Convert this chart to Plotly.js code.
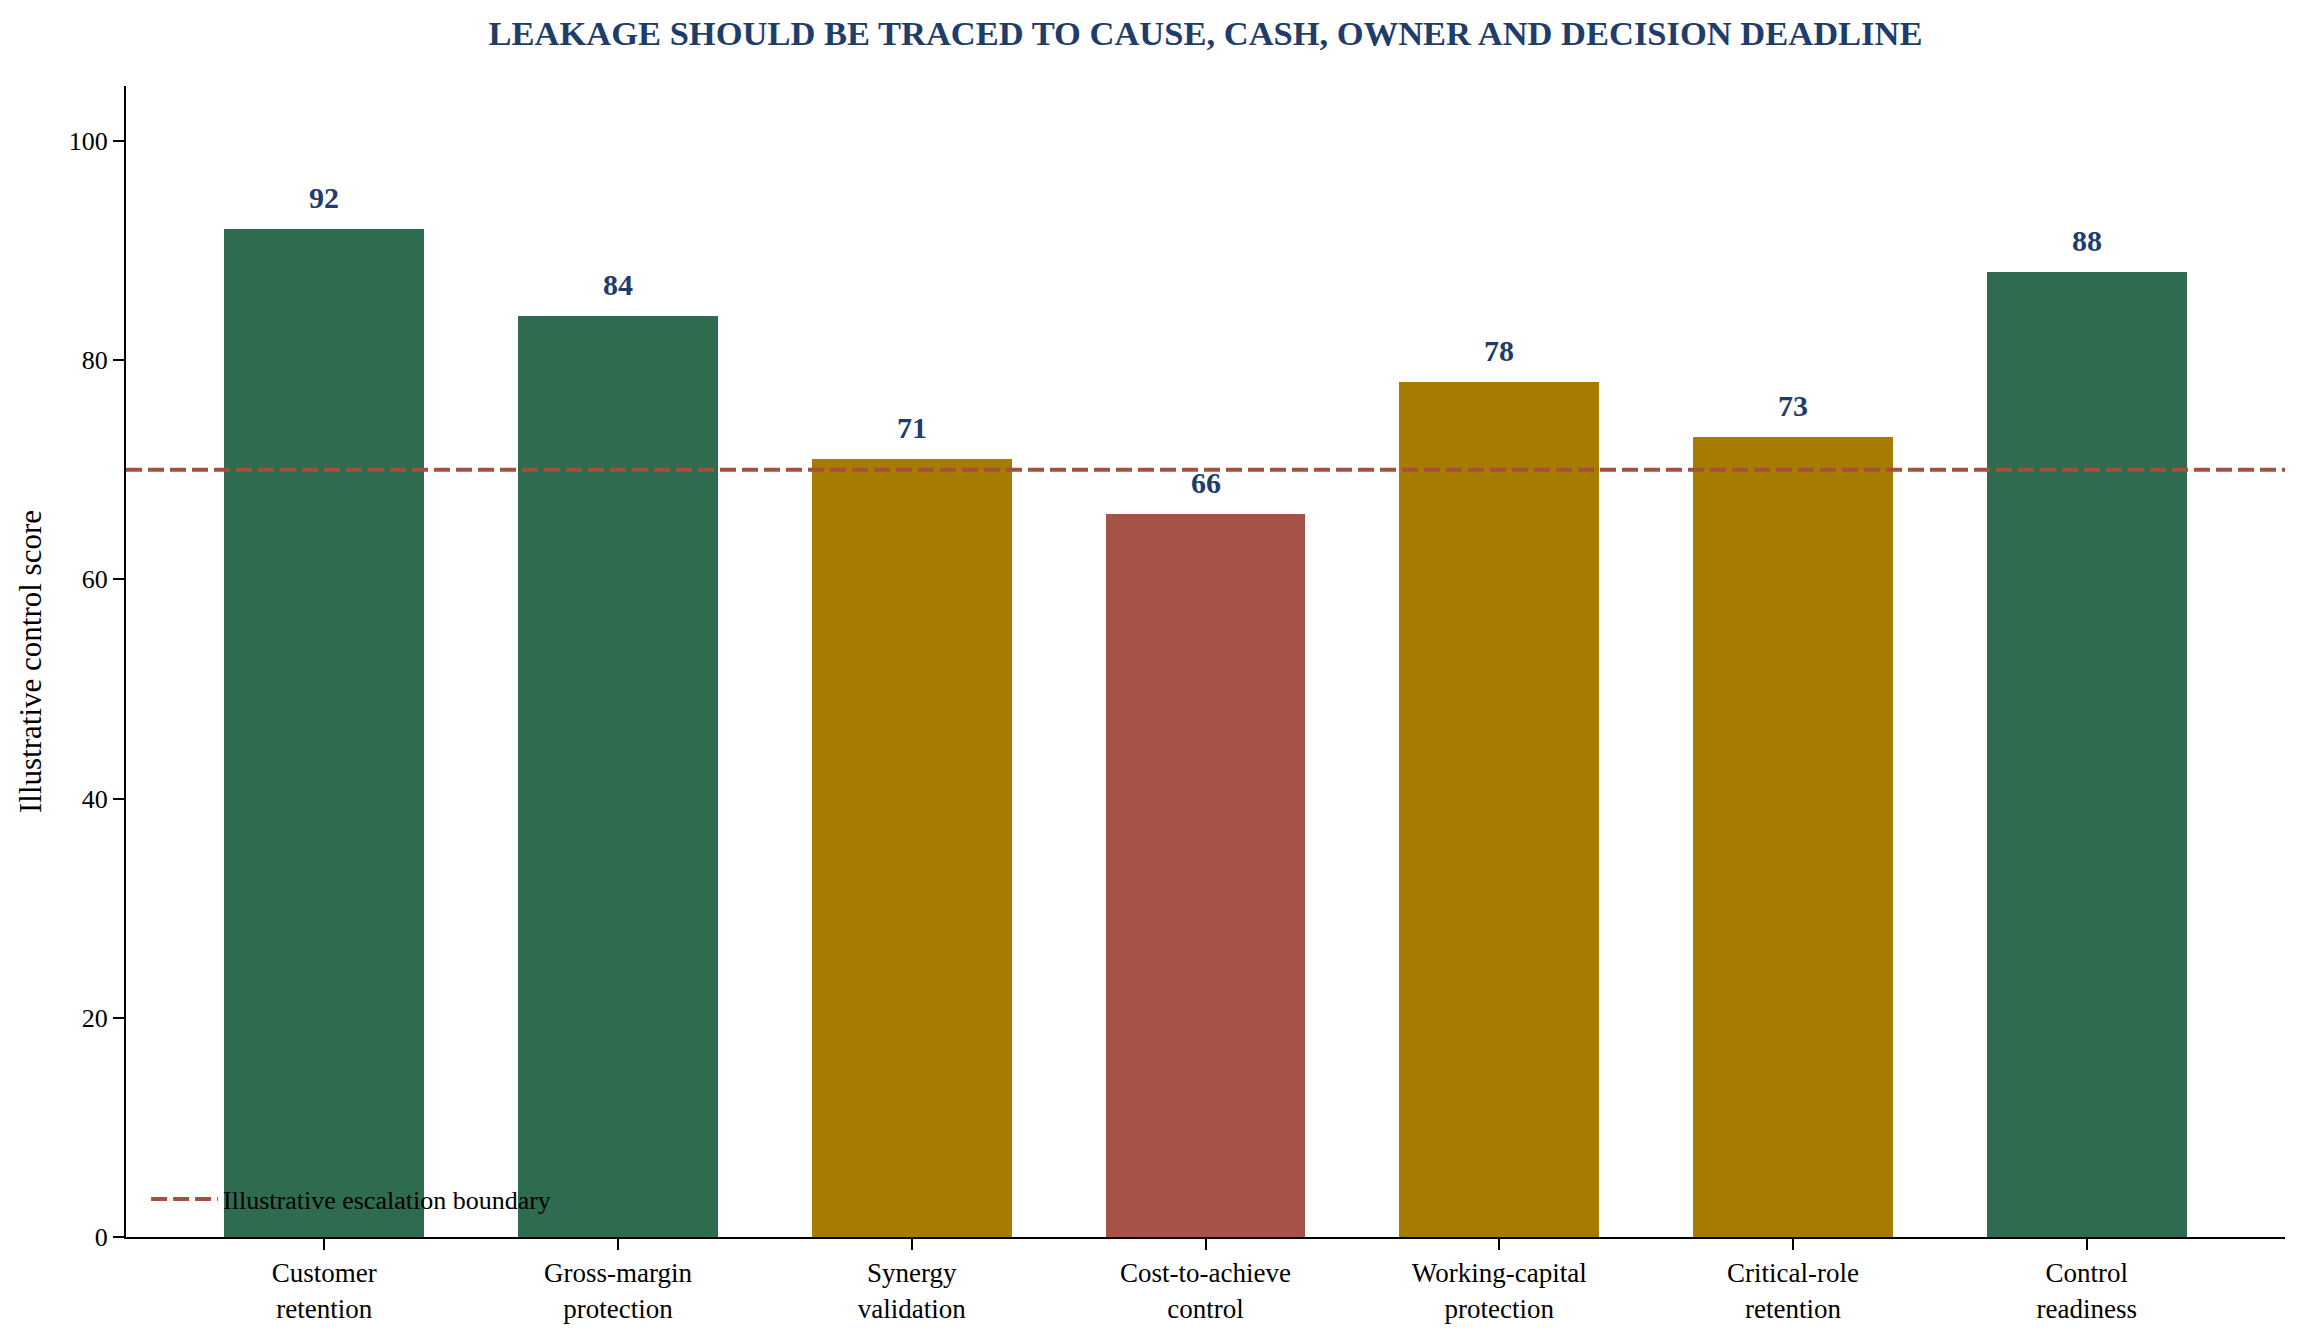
<!DOCTYPE html>
<html>
<head>
<meta charset="utf-8">
<script src="https://cdn.plot.ly/plotly-3.0.1.min.js"></script>
<style>
html,body{margin:0;padding:0;background:#fff}
#chart{width:2305px;height:1341px}
</style>
</head>
<body>
<div id="chart"></div>
<script>
// categories and scores
const categories=["Customer<br>retention","Gross-margin<br>protection","Synergy<br>validation","Cost-to-achieve<br>control","Working-capital<br>protection","Critical-role<br>retention","Control<br>readiness"]
const scores=[92,84,71,66,78,73,88]
const status=["good","good","watch","risk","watch","watch","good"]
const boundary=70
const boundaryLabel="Illustrative escalation boundary"

const palette={good:"#2E6B4F",watch:"#A67C00",risk:"#A55346"}
const serif="Liberation Serif, Times New Roman, serif"

let bars={
type:"bar",
x:categories,
y:scores,
width:0.68,
marker:{color:status.map(s=>palette[s])},
showlegend:false,
hoverinfo:"skip"
}

let labels=categories.map((c,i)=>({
x:c,
y:scores[i],
xref:"x",
yref:"y",
text:"<b>"+scores[i]+"</b>",
showarrow:false,
yanchor:"bottom",
yshift:13,
font:{family:serif,size:30,color:"#1F3D6B"}
}))

let layout={
width:2305,
height:1341,
paper_bgcolor:"#fff",
plot_bgcolor:"#fff",
margin:{l:126,r:20,t:86,b:104},
font:{family:serif,size:26,color:"#000"},
title:{
text:"<b>LEAKAGE SHOULD BE TRACED TO CAUSE, CASH, OWNER AND DECISION DEADLINE</b>",
font:{family:serif,size:34.5,color:"#1F3D6B"},
x:0.5,
xanchor:"center",
xref:"paper",
y:1-33/1341,
yanchor:"middle"
},
xaxis:{
range:[-0.675,6.675],
showline:true,
linecolor:"#000",
linewidth:2,
ticks:"outside",
ticklen:11,
tickwidth:2,
tickcolor:"#000",
showgrid:false,
zeroline:false,
tickfont:{family:serif,size:27}
},
yaxis:{
range:[0,105],
tickvals:[0,20,40,60,80,100],
showline:true,
linecolor:"#000",
linewidth:2,
ticks:"outside",
ticklen:11,
tickwidth:2,
tickcolor:"#000",
showgrid:false,
zeroline:false,
tickfont:{family:serif,size:26},
title:{text:"Illustrative control score",font:{family:serif,size:31},standoff:18}
},
shapes:[{
type:"line",
xref:"paper",
yref:"y",
x0:0,
x1:1,
y0:boundary,
y1:boundary,
line:{color:"#A5503F",width:4,dash:"16px,6px"},
layer:"above",
showlegend:true,
name:boundaryLabel
}],
legend:{
x:0.0093,
y:0.033,
xanchor:"left",
yanchor:"middle",
itemwidth:67,
bgcolor:"rgba(0,0,0,0)",
font:{family:serif,size:26}
},
annotations:labels,
bargap:0
}

Plotly.newPlot("chart",[bars],layout,{displayModeBar:false,staticPlot:true})
</script>
</body>
</html>
